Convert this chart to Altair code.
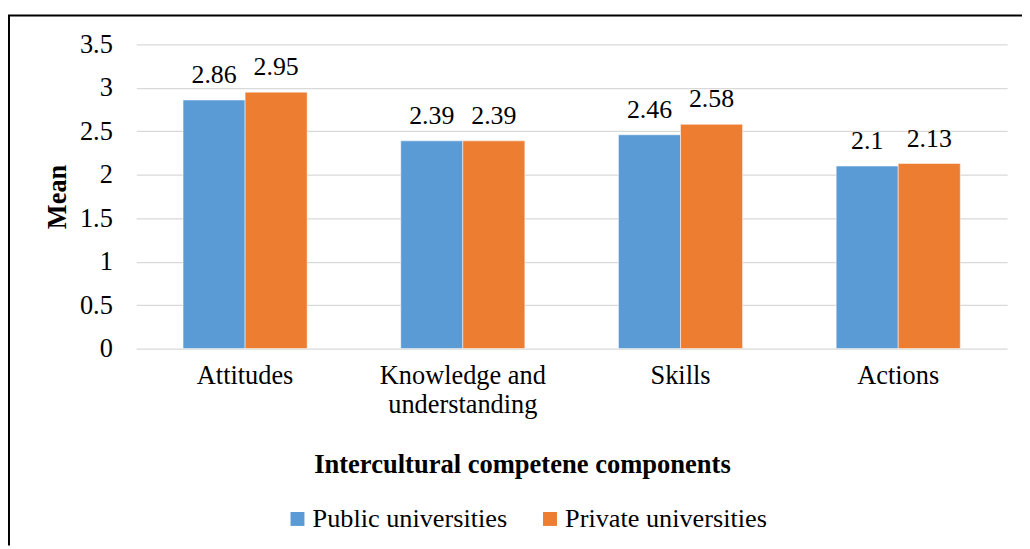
import altair as alt
import pandas as pd

categories = ["Attitudes", "Knowledge and understanding", "Skills", "Actions"]
public = [2.86, 2.39, 2.46, 2.10]
private = [2.95, 2.39, 2.58, 2.13]
series = ["Public universities", "Private universities"]
colors = ["#5B9BD5", "#ED7D31"]
y_ticks = [0, 0.5, 1, 1.5, 2, 2.5, 3, 3.5]

rows = []
for c, a, b in zip(categories, public, private):
    rows.append({"Component": c, "Group": series[0], "Mean": a})
    rows.append({"Component": c, "Group": series[1], "Mean": b})
df = pd.DataFrame(rows)

FONT = "Liberation Serif"
W, H = 876, 306

x = alt.X(
    "Component:N",
    sort=categories,
    scale=alt.Scale(paddingInner=0.43, paddingOuter=0.215),
    axis=alt.Axis(
        title="Intercultural competene components",
        labelAngle=0, domain=False, ticks=False, labelPadding=14,
        labelFontSize=26.5, labelFont=FONT, labelColor="black", labelLineHeight=29,
        labelLimit=400,
        labelExpr="datum.label == 'Knowledge and understanding' ? ['Knowledge and', 'understanding'] : datum.label",
        titleFont=FONT, titleFontSize=26.7, titleFontWeight="bold", titleColor="black",
        titleX=388, titleY=117, titleBaseline="middle", titleAlign="center",
    ),
)
xo = alt.XOffset("Group:N", sort=series, scale=alt.Scale(paddingInner=0, paddingOuter=0))
y = alt.Y(
    "Mean:Q",
    scale=alt.Scale(domain=[0, 3.5], nice=False),
    axis=alt.Axis(
        values=y_ticks, format=".2~f", grid=True, gridColor="#D9D9D9", gridWidth=1.3,
        domain=False, ticks=False, labelPadding=24,
        labelFontSize=26.5, labelFont=FONT, labelColor="black",
        title="Mean", titleFont=FONT, titleFontSize=26.5, titleFontWeight="bold", titleColor="black",
        titleX=-79, titleY=153, titleBaseline="middle", titleAlign="center", titleAngle=270,
    ),
)
color = alt.Color(
    "Group:N", sort=series,
    scale=alt.Scale(domain=series, range=colors),
    legend=alt.Legend(
        title=None, orient="none", legendX=149, legendY=464, direction="horizontal",
        symbolType="square", symbolSize=196, symbolStrokeWidth=0,
        labelFontSize=26.4, labelFont=FONT, labelColor="black", labelOffset=2,
        columnPadding=29, labelLimit=500,
    ),
)

base = alt.Chart(df)
bars = base.mark_bar(stroke="white", strokeWidth=0.5).encode(x=x, xOffset=xo, y=y, color=color)
labels = base.mark_text(dy=-17, baseline="alphabetic", fontSize=26, font=FONT, color="black").encode(
    x=x, xOffset=xo, y=y, text=alt.Text("Mean:Q", format=".2~f")
)

frame_df = pd.DataFrame({"k": [0]})
left_line = alt.Chart(frame_df).mark_rule(color="black", strokeWidth=2).encode(
    x=alt.value(-128), y=alt.value(-29), y2=alt.value(504)
)
top_line = alt.Chart(frame_df).mark_rule(color="black", strokeWidth=2).encode(
    x=alt.value(-129), x2=alt.value(891), y=alt.value(-29)
)

chart = alt.layer(bars, labels, left_line, top_line).properties(
    width=W, height=H,
    padding={"left": 129, "top": 35, "right": 15, "bottom": 198},
    autosize=alt.AutoSizeParams(type="none"),
    background="white",
).configure_view(stroke=None)

chart.save("out.html", embed_options={"renderer": "svg", "actions": False})
